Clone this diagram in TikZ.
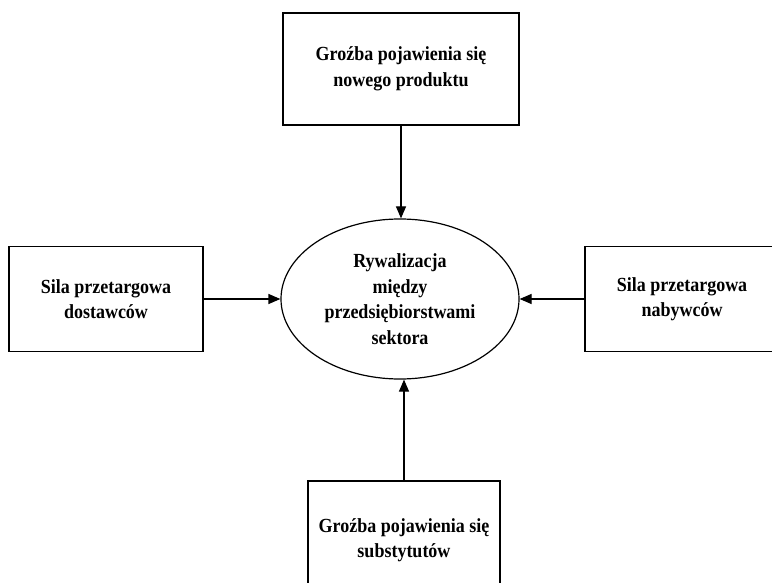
\documentclass[tikz,border=0pt]{standalone}
\usepackage{fontspec}
\newfontfamily\diagfont{Liberation Serif}[FakeStretch=0.9]
\usetikzlibrary{arrows.meta,positioning,shapes.geometric}

\begin{document}
\begin{tikzpicture}[
  x=1pt, y=-1pt,
  font=\diagfont\bfseries\fontsize{20}{25.5}\selectfont,
  box/.style={draw, line width=1.2pt, align=center, inner sep=0pt},
  ell/.style={draw, ellipse, line width=1.2pt, align=center, inner sep=0pt,
              minimum width=238pt, minimum height=160pt},
  arr/.style={-{Triangle[length=12pt,width=10pt]}, line width=1.2pt}
]
\clip (0,0) rectangle (772,583);
\node[ell] (rival) at (400,299) {Rywalizacja\\między\\przedsiębiorstwami\\sektora};
\node[box, minimum width=236pt, minimum height=112pt] (newprod) at (401,69)
  {Groźba pojawienia się\\nowego produktu};
\node[box, minimum width=194pt, minimum height=105pt] (suppl) at (106,299)
  {Sila przetargowa\\dostawców};
\node[box, minimum width=194pt, minimum height=105pt] (buyer) at (682,299)
  {Sila przetargowa\\nabywców};
\node[box, minimum width=192pt, minimum height=118pt] (subst) at (404,540)
  {Groźba pojawienia się\\substytutów};
\draw[arr] (newprod.south) -- (newprod.south |- rival.north);
\draw[arr] (suppl.east) -- (rival.west);
\draw[arr] (buyer.west) -- (rival.east);
\draw[arr] (subst.north) -- (subst.north |- rival.south);
\end{tikzpicture}
\end{document}
